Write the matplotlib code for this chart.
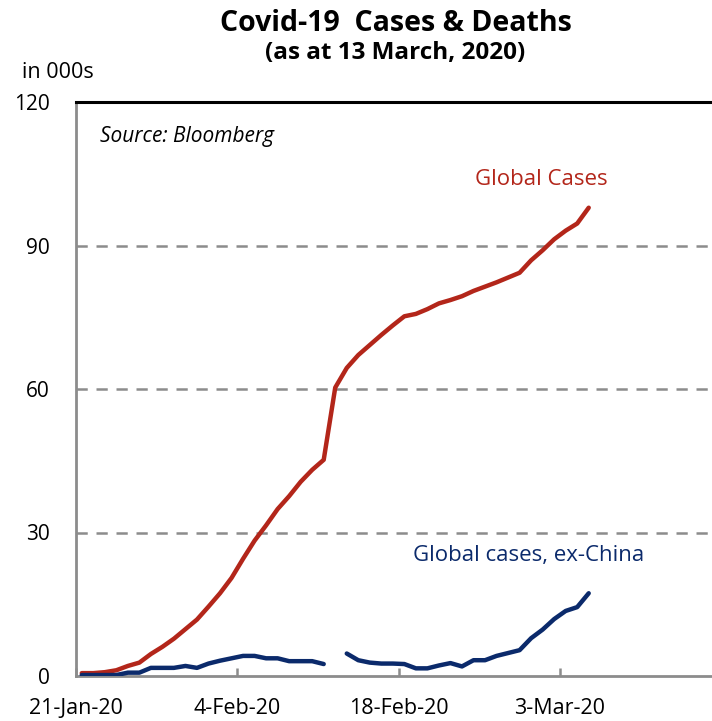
import pandas as pd
import numpy as np
import matplotlib
matplotlib.use("Agg")
import matplotlib.pyplot as plt

#%% data (thousands of cases, daily from 21-Jan-20)
global_cases = [0.6, 0.6, 0.8, 1.2, 2.1, 2.8, 4.6, 6.1, 7.8, 9.8,
                11.8, 14.5, 17.3, 20.5, 24.5, 28.3, 31.5, 34.9, 37.6, 40.6,
                43.1, 45.2, 60.3, 64.4, 67.1, 69.2, 71.3, 73.3, 75.2, 75.7,
                76.7, 77.9, 78.6, 79.4, 80.5, 81.4, 82.3, 83.3, 84.3, 86.9,
                89.0, 91.3, 93.1, 94.6, 97.9]
ex_china = [0.2, 0.2, 0.2, 0.2, 0.7, 0.7, 1.7, 1.7, 1.7, 2.1,
            1.7, 2.6, 3.2, 3.7, 4.2, 4.2, 3.7, 3.7, 3.1, 3.1,
            3.1, 2.5, np.nan, 4.7, 3.3, 2.8, 2.6, 2.6, 2.5, 1.6,
            1.6, 2.2, 2.7, 2.0, 3.3, 3.3, 4.2, 4.8, 5.4, 7.9,
            9.7, 11.9, 13.6, 14.4, 17.3]
tick_dates = ["2020-01-21", "2020-02-04", "2020-02-18", "2020-03-03"]
tick_labels = ["21-Jan-20", "4-Feb-20", "18-Feb-20", "3-Mar-20"]
y_ticks = [0, 30, 60, 90, 120]

RED = "#B3261A"
NAVY = "#0B2A6B"
GREY = "#8C8C8C"

plt.rcParams['font.family'] = ['Open Sans', 'DejaVu Sans']

dates = pd.date_range("2020-01-21", periods=len(global_cases), freq="D")
# points sit between the day ticks, like the Excel original
x = dates + pd.Timedelta(hours=12)

fig = plt.figure(figsize=(7.12, 7.21), dpi=100)
ax = fig.add_axes([76 / 712, 1 - 676 / 721, 1 - 76 / 712, (676 - 102) / 721])

ax.plot(x, global_cases, color=RED, lw=3.2, solid_joinstyle='round', solid_capstyle='round', zorder=3)
ax.plot(x, ex_china, color=NAVY, lw=3.2, solid_joinstyle='round', solid_capstyle='round', zorder=3)

start = pd.Timestamp("2020-01-21")
ax.set_xlim(start, start + pd.Timedelta(days=55.2))
ax.set_ylim(0, 120)

ax.set_yticks(y_ticks)
ax.set_yticklabels([str(v) for v in y_ticks], fontsize=15)
ax.tick_params(axis='y', length=0, pad=19)

ax.set_xticks(pd.to_datetime(tick_dates))
ax.set_xticklabels(tick_labels, fontsize=15.5)
ax.tick_params(axis='x', direction='in', length=6, width=1.8, color=GREY, pad=16)

for v in [30, 60, 90]:
    ax.axhline(v, color=GREY, lw=1.8, ls=(0, (4.5, 3.5)), zorder=1)

ax.spines['left'].set_color(GREY)
ax.spines['left'].set_linewidth(2)
ax.spines['bottom'].set_color(GREY)
ax.spines['bottom'].set_linewidth(2)
ax.spines['top'].set_color('black')
ax.spines['top'].set_linewidth(2.2)
ax.spines['right'].set_visible(False)

ax.text(0.038, 0.958, "Source: Bloomberg", transform=ax.transAxes, fontsize=15,
        style='italic', va='top', ha='left')
ax.text(pd.Timestamp("2020-03-07 03:00"), 103.7, "Global Cases", color=RED, fontsize=16,
        ha='right', va='center')
ax.text(pd.Timestamp("2020-02-19 05:00"), 25.1, "Global cases, ex-China", color=NAVY,
        fontsize=16, ha='left', va='center')

fig.text(396 / 712, 1 - 31 / 721, "Covid-19  Cases & Deaths", fontsize=20.5, fontweight='bold',
         ha='center', va='baseline')
fig.text(395 / 712, 1 - 59 / 721, "(as at 13 March, 2020)", fontsize=17.5, fontweight='bold',
         ha='center', va='baseline')
fig.text(22 / 712, 1 - 78 / 721, "in 000s", fontsize=15.5, ha='left', va='baseline')

plt.savefig("out.png", dpi=100)
